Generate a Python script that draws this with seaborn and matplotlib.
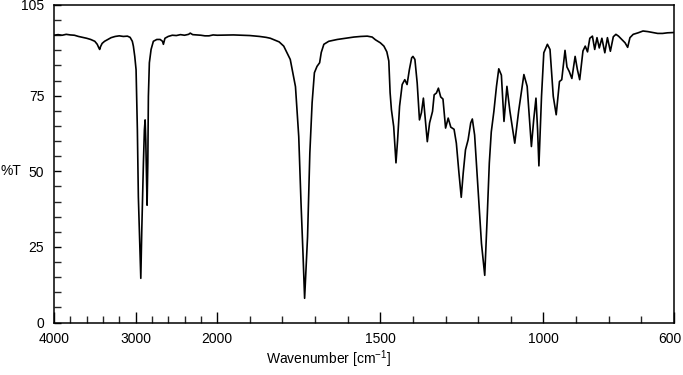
import numpy as np
import pandas as pd
import matplotlib
matplotlib.use("Agg")
import matplotlib.pyplot as plt
import matplotlib.transforms as mtransforms
import seaborn as sns
from matplotlib.ticker import FixedLocator, FixedFormatter, NullFormatter

# ---- data ----
wavenumber = [
    4000, 3950, 3900, 3850, 3800, 3750, 3700, 3650, 3600, 3550, 3500, 3470, 3450, 3440,
    3430, 3410, 3380, 3340, 3300, 3250, 3200, 3150, 3100, 3067, 3040, 3027, 3010, 2994,
    2978, 2966, 2948, 2936, 2924, 2904, 2892, 2883, 2875, 2867, 2859, 2850, 2843, 2831,
    2810, 2782, 2740, 2699, 2670, 2659, 2640, 2600, 2550, 2500, 2450, 2400, 2350, 2330,
    2300, 2250, 2200, 2150, 2100, 2050, 2000, 1950, 1900, 1870, 1850, 1837, 1810, 1796,
    1776, 1760, 1750, 1743, 1737, 1732, 1723, 1716, 1709, 1702, 1694, 1686, 1681, 1673,
    1658, 1632, 1600, 1581, 1560, 1540, 1525, 1515, 1500, 1489, 1480, 1474, 1470, 1466,
    1459, 1455, 1452, 1447, 1441, 1433, 1425, 1418, 1411, 1404, 1400, 1394, 1387, 1380,
    1374, 1368, 1361, 1356, 1349, 1340, 1335, 1328, 1322, 1315, 1308, 1300, 1292, 1284,
    1274, 1267, 1259, 1252, 1246, 1239, 1231, 1223, 1218, 1211, 1201, 1190, 1180, 1172,
    1166, 1160, 1152, 1144, 1137, 1129, 1121, 1112, 1103, 1088, 1076, 1060, 1050, 1037,
    1030, 1023, 1018, 1014, 1006, 999, 988, 980, 970, 961, 951, 944, 934, 928,
    921, 913, 903, 896, 889, 879, 872, 865, 858, 850, 843, 836, 829, 821,
    812, 804, 795, 786, 778, 770, 760, 750, 742, 735, 725, 710, 695, 680,
    665, 650, 635, 620, 600,
]
transmittance = [
    95.0, 95.2, 95.0, 95.3, 95.1, 95.0, 94.6, 94.3, 94.0, 93.6, 93.0, 92.0, 90.8, 90.3,
    91.2, 92.3, 93.0, 93.6, 94.2, 94.6, 94.8, 94.6, 94.7, 94.3, 93.0, 91.4, 88.0, 83.6,
    63.7, 41.6, 25.0, 14.6, 30.5, 52.7, 63.7, 67.0, 60.4, 50.4, 38.8, 52.8, 74.8, 85.9,
    90.3, 93.0, 93.6, 93.6, 93.0, 92.0, 94.0, 94.6, 95.0, 94.9, 95.2, 95.0, 95.3, 95.7,
    95.2, 95.1, 95.0, 94.8, 94.8, 95.1, 95.0, 95.1, 94.9, 94.6, 94.3, 94.0, 92.8, 91.4,
    87.0, 78.0, 61.5, 39.5, 22.9, 8.0, 28.3, 56.0, 72.7, 82.6, 84.7, 85.9, 89.3, 92.0,
    93.0, 93.6, 94.1, 94.4, 94.6, 94.7, 94.4, 93.5, 92.5, 91.4, 89.5, 86.5, 76.0, 70.4,
    64.8, 58.0, 52.8, 60.4, 71.5, 78.7, 80.3, 78.7, 83.6, 87.5, 88.0, 87.0, 79.2, 67.0,
    69.4, 74.2, 66.0, 59.8, 66.0, 69.8, 75.3, 75.9, 77.5, 74.6, 73.9, 64.3, 67.6, 64.6,
    63.9, 59.3, 49.4, 41.4, 49.4, 57.1, 60.4, 66.0, 67.3, 62.0, 45.0, 26.1, 15.6, 36.1,
    52.7, 63.0, 69.8, 78.1, 83.9, 81.8, 66.5, 78.1, 70.0, 59.3, 70.0, 82.0, 78.1, 58.2,
    67.0, 74.2, 63.7, 51.8, 74.8, 89.2, 92.0, 90.3, 74.8, 68.7, 79.7, 80.3, 90.0, 84.5,
    83.0, 80.7, 88.0, 83.6, 80.3, 89.8, 91.4, 89.5, 94.0, 94.7, 90.3, 94.2, 90.8, 94.0,
    89.2, 94.2, 89.7, 94.5, 95.3, 94.7, 93.6, 92.5, 91.0, 94.2, 95.3, 95.8, 96.4, 96.2,
    95.9, 95.6, 95.6, 95.8, 95.9,
]

major_x_ticks = [4000, 3000, 2000, 1500, 1000, 600]
major_x_labels = ["4000", "3000", "2000", "1500", "1000", "600"]
minor_x_ticks = [3800, 3600, 3400, 3200, 2800, 2600, 2400, 2200,
                 1900, 1800, 1700, 1600, 1400, 1300, 1200, 1100, 900, 800, 700]
y_ticks = [0, 25, 50, 75, 105]
y_labels = ["0", "25", "50", "75", "105"]
y_minor_ticks = [v for v in range(5, 105, 5) if v not in (25, 50, 75)]

sns.set_theme(style="white")
plt.rcParams['font.family'] = ['Liberation Sans', 'DejaVu Sans']
plt.rcParams['mathtext.fontset'] = 'custom'
plt.rcParams['mathtext.rm'] = 'Liberation Sans'
plt.rcParams['mathtext.it'] = 'Liberation Sans:italic'
plt.rcParams['mathtext.bf'] = 'Liberation Sans:bold'

W, H = 683, 375
fig = plt.figure(figsize=(W / 100, H / 100), dpi=100)
fig.patch.set_facecolor("white")
ax = fig.add_axes([54 / W, 1 - 322.5 / H, (674 - 54) / W, (322.5 - 5) / H])

df = pd.DataFrame({"wavenumber": wavenumber, "T": transmittance})
sns.lineplot(data=df, x="wavenumber", y="T", ax=ax, color="black",
             linewidth=1.2, estimator=None, sort=False)


def fwd(w):
    w = np.asarray(w, dtype=float)
    return np.where(w > 2000, 2000 + (w - 2000) / 4.0, w)


def inv(u):
    u = np.asarray(u, dtype=float)
    return np.where(u > 2000, 2000 + (u - 2000) * 4.0, u)


ax.set_xscale('function', functions=(fwd, inv))
ax.set_xlim(4000, 600)
ax.set_ylim(0, 105)

ax.xaxis.set_major_locator(FixedLocator(major_x_ticks))
ax.xaxis.set_major_formatter(FixedFormatter(major_x_labels))
ax.xaxis.set_minor_locator(FixedLocator(minor_x_ticks))
ax.xaxis.set_minor_formatter(NullFormatter())
ax.yaxis.set_major_locator(FixedLocator(y_ticks))
ax.yaxis.set_major_formatter(FixedFormatter(y_labels))
ax.yaxis.set_minor_locator(FixedLocator(y_minor_ticks))
ax.yaxis.set_minor_formatter(NullFormatter())

ax.tick_params(axis='x', which='major', direction='in', length=8, width=1,
               bottom=True, top=False, pad=7, labelsize=10, colors='black')
ax.tick_params(axis='x', which='minor', direction='in', length=4.7, width=1,
               bottom=True, top=False)
ax.tick_params(axis='y', which='major', direction='in', length=5.2, width=1,
               left=True, right=False, pad=7, labelsize=10, colors='black')
ax.tick_params(axis='y', which='minor', direction='in', length=5.2, width=1,
               left=True, right=False)

for s in ax.spines.values():
    s.set_color("black")
    s.set_linewidth(1.1)
    s.set_visible(True)

ax.set_xlabel("")
ax.set_ylabel("")
ax.grid(False)

# nudge the edge tick labels slightly inward, as in the reference
majticks = ax.xaxis.get_major_ticks()
last_lab = majticks[-1].label1
last_lab.set_transform(last_lab.get_transform() +
                       mtransforms.ScaledTranslation(-4 / 100, 0, fig.dpi_scale_trans))

fig.text(11 / W, 1 - 171 / H, "%T", ha="center", va="center", fontsize=10, color="black")
fig.text(329 / W, 1 - 359 / H, r"Wavenumber [cm$^{\mathregular{-1}}$]", ha="center",
         va="center", fontsize=10, color="black")

fig.savefig("out.png", dpi=100)
